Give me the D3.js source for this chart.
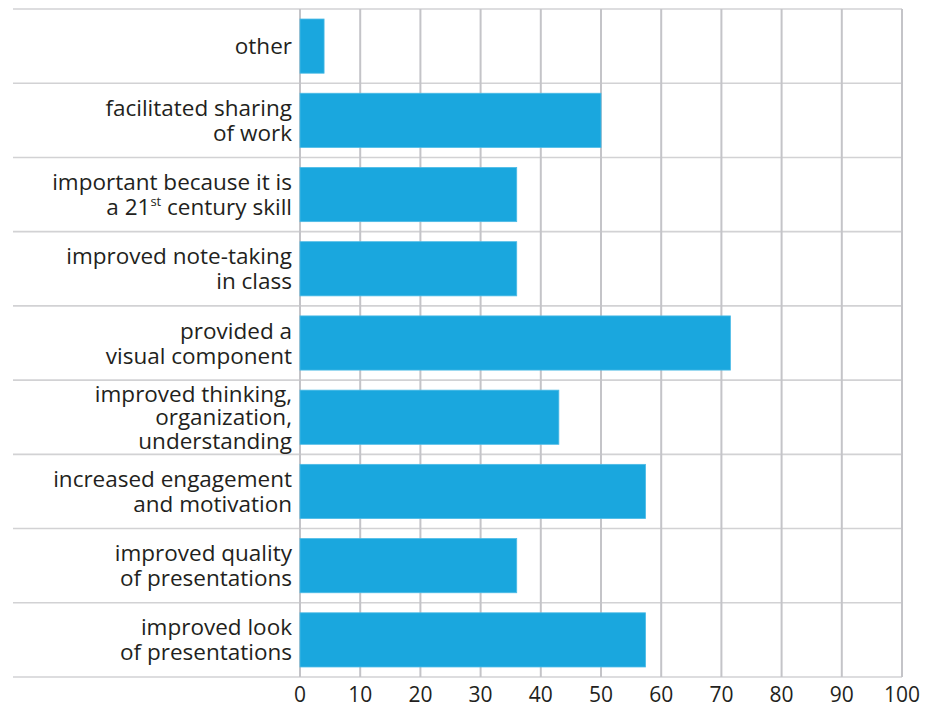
<!DOCTYPE html>
<html>
<head>
<meta charset="utf-8">
<script src="https://cdn.jsdelivr.net/npm/d3@7"></script>
<style>
  html, body { margin: 0; padding: 0; background: #fff; }
  svg { display: block; }
  text { font-family: "Open Sans", "Noto Sans", sans-serif; fill: #231f20; }
</style>
</head>
<body>
<svg id="chart" width="929" height="711"></svg>
<script>
const categories = [
  "other",
  "facilitated sharing of work",
  "important because it is a 21st century skill",
  "improved note-taking in class",
  "provided a visual component",
  "improved thinking, organization, understanding",
  "increased engagement and motivation",
  "improved quality of presentations",
  "improved look of presentations"
];
const labelLines = [
  ["other"],
  ["facilitated sharing", "of work"],
  ["important because it is", "a 21|st| century skill"],
  ["improved note-taking", "in class"],
  ["provided a", "visual component"],
  ["improved thinking,", "organization,", "understanding"],
  ["increased engagement", "and motivation"],
  ["improved quality", "of presentations"],
  ["improved look", "of presentations"]
];
const values = [4, 50, 36, 36, 71.5, 43, 57.4, 36, 57.4];
const xTicks = [0, 10, 20, 30, 40, 50, 60, 70, 80, 90, 100];

const svg = d3.select("#chart");
const plotLeft = 300, plotRight = 902, plotTop = 9, plotBottom = 677, lineLeft = 13;

const x = d3.scaleLinear().domain([0, 100]).range([plotLeft, plotRight]);
const y = d3.scaleBand().domain(categories).range([plotTop, plotBottom]).paddingInner(0.27).paddingOuter(0.135);
const step = y.step();

// horizontal separators
const seps = d3.range(categories.length + 1).map(i => plotTop + i * step);
svg.append("g").selectAll("line").data(seps).join("line")
  .attr("x1", lineLeft).attr("x2", plotRight)
  .attr("y1", d => d).attr("y2", d => d)
  .attr("stroke", "#d2d2d4").attr("stroke-width", 1.6);

// vertical gridlines
svg.append("g").selectAll("line").data(xTicks).join("line")
  .attr("x1", d => x(d)).attr("x2", d => x(d))
  .attr("y1", plotTop).attr("y2", plotBottom)
  .attr("stroke", "#c4c4c8").attr("stroke-width", 2);

// bars
svg.append("g").selectAll("rect").data(values).join("rect")
  .attr("x", x(0))
  .attr("y", (d, i) => y(categories[i]))
  .attr("width", d => x(d) - x(0))
  .attr("height", y.bandwidth())
  .attr("fill", "#1aa7de")
  .attr("stroke", "#4dbbe6").attr("stroke-width", 0.8);

// category labels
const lab = svg.append("g");
labelLines.forEach((lines, i) => {
  const cy = y(categories[i]) + y.bandwidth() / 2;
  const n = lines.length;
  const lh = n > 2 ? 23.5 : 25;
  const first = cy - (n - 1) * lh / 2 + 8;
  lines.forEach((ln, j) => {
    const t = lab.append("text")
      .attr("x", 292).attr("y", first + j * lh)
      .attr("text-anchor", "end")
      .attr("font-size", 22.5);
    const parts = ln.split("|");
    if (parts.length === 1) {
      t.text(ln);
    } else {
      t.append("tspan").text(parts[0]);
      t.append("tspan").text(parts[1]).attr("font-size", 13).attr("dy", -9);
      t.append("tspan").text(parts[2]).attr("dy", 9);
    }
  });
});

// x axis tick labels
svg.append("g").selectAll("text").data(xTicks).join("text")
  .attr("x", d => x(d)).attr("y", 702)
  .attr("text-anchor", "middle")
  .attr("font-size", 21)
  .text(d => d);
</script>
</body>
</html>
